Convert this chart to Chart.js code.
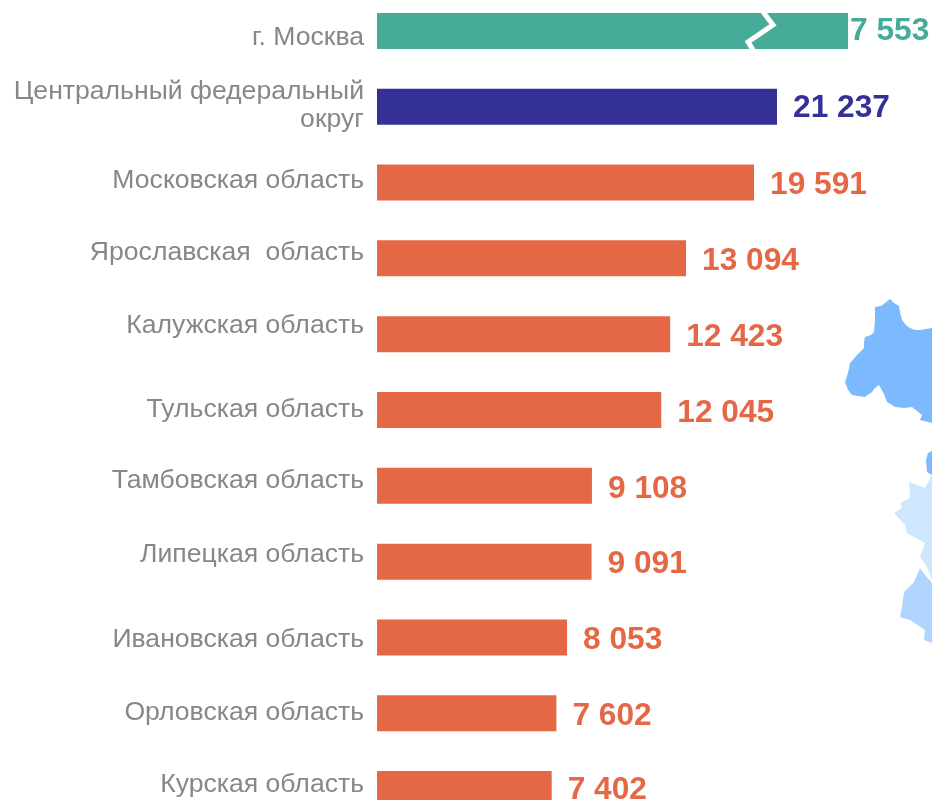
<!DOCTYPE html>
<html lang="ru">
<head>
<meta charset="utf-8">
<title>Регионы ЦФО</title>
<script src="https://cdn.jsdelivr.net/npm/chart.js@4"></script>
<style>
html,body{margin:0;padding:0;background:#fff;width:932px;height:800px;overflow:hidden}
#wrap{position:absolute;left:0;top:-7px;width:932px;height:834px}
</style>
</head>
<body>
<div id="wrap"><canvas id="c" width="932" height="834"></canvas></div>
<script>
const categories = [
  ["г. Москва"],
  ["Центральный федеральный", "округ"],
  ["Московская область"],
  ["Ярославская  область"],
  ["Калужская область"],
  ["Тульская область"],
  ["Тамбовская область"],
  ["Липецкая область"],
  ["Ивановская область"],
  ["Орловская область"],
  ["Курская область"]
];
// Values printed beside the bars
const printedValues = [7553, 21237, 19591, 13094, 12423, 12045, 9108, 9091, 8053, 7602, 7402];
// Bar lengths as drawn: the first three bars are not to scale in the source picture
const drawnValues = [19960, 16950, 15975, 13094, 12423, 12045, 9108, 9091, 8053, 7602, 7402];

const colorGreen = "#46AB98", colorNavy = "#353095", colorOrange = "#E46846", colorGrey = "#878787";
const barColors = [colorGreen, colorNavy].concat(Array(9).fill(colorOrange));
const fontFamily = '"Liberation Sans", Arial, sans-serif';

function fmt(v){
  const s = String(v);
  return s.slice(0, -3) + "\u00A0" + s.slice(-3);
}

const mapPlugin = {
  id: "mapPlugin",
  beforeDraw(chart){
    const ctx = chart.ctx;
    const top = 7; // canvas sits 7px above the page
    const shapes = [
      ["#7DB9FF", [[890,299],[894,303],[899,306],[900,312],[902,320],[906,325],[910,328],[915,330],[920,330],[926,329],[932,328],[932,423],[920,420],[922,415],[917,411],[912,407],[904,408],[895,407],[887,402],[884,394],[879,385],[875,388],[872,392],[865,397],[858,396],[852,395],[848,390],[845,382],[848,373],[850,363],[857,355],[864,348],[864,342],[865,337],[871,335],[874,332],[875,320],[875,307],[881,306],[885,303]]],
      ["#7DB9FF", [[932,451],[928,453],[926,460],[927,472],[932,475]]],
      ["#CFE6FF", [[932,475],[925,488],[909,482],[910,498],[900,503],[902,508],[894,513],[905,525],[907,533],[925,543],[920,557],[927,567],[932,580]]],
      ["#AED4FF", [[920,568],[914,582],[904,592],[902,607],[900,617],[910,620],[925,630],[924,640],[932,643],[932,583],[925,575]]]
    ];
    ctx.save();
    for (const [fill, pts] of shapes){
      ctx.beginPath();
      pts.forEach(([x,y],i) => i ? ctx.lineTo(x,y+top) : ctx.moveTo(x,y+top));
      ctx.closePath();
      ctx.fillStyle = fill;
      ctx.fill();
    }
    ctx.restore();
  }
};

const textPlugin = {
  id: "textPlugin",
  afterDatasetsDraw(chart){
    const ctx = chart.ctx;
    const bars = chart.getDatasetMeta(0).data;
    const catShift = [7, -1, -2, -6, -9, 0, -5, -7, 2, -1, -4];
    const valShift = [0, 2, 3, 3, 3, 3, 3, 3, 3, 3, 1];
    const valGap = [2, 16, 16, 16, 16, 16, 16, 16, 16, 16, 16];
    ctx.save();
    // break mark on the first bar
    const b0 = bars[0];
    const bx = b0.x - 85, by = b0.y;
    ctx.beginPath();
    ctx.moveTo(bx, by - 19);
    ctx.lineTo(bx + 10, by - 6);
    ctx.lineTo(bx - 15, by + 11);
    ctx.lineTo(bx - 10, by + 19);
    ctx.strokeStyle = "#fff";
    ctx.lineWidth = 5;
    ctx.stroke();
    // category labels
    ctx.textAlign = "right";
    ctx.textBaseline = "middle";
    ctx.fillStyle = colorGrey;
    ctx.font = "26.6px " + fontFamily;
    categories.forEach((lines, i) => {
      const y = bars[i].y + catShift[i];
      lines.forEach((t, k) => ctx.fillText(t, 364, y + (k - (lines.length - 1) / 2) * 28));
    });
    // value labels
    ctx.textAlign = "left";
    ctx.font = "bold 31.7px " + fontFamily;
    printedValues.forEach((v, i) => {
      ctx.fillStyle = barColors[i];
      ctx.fillText(fmt(v), bars[i].x + valGap[i], bars[i].y + valShift[i]);
    });
    ctx.restore();
  }
};

new Chart(document.getElementById("c"), {
  type: "bar",
  data: {
    labels: categories.map(l => l.join(" ")),
    datasets: [{
      data: drawnValues,
      backgroundColor: barColors,
      barThickness: 36,
      borderWidth: 0,
      inflateAmount: 0
    }]
  },
  plugins: [mapPlugin, textPlugin],
  options: {
    indexAxis: "y",
    responsive: false,
    animation: false,
    layout: { padding: { left: 377, right: 0, top: 0, bottom: 0 } },
    plugins: { legend: { display: false }, tooltip: { enabled: false }, title: { display: false } },
    scales: {
      x: { display: false, min: 0, max: 23517, grid: { display: false } },
      y: { display: false, grid: { display: false } }
    }
  }
});
</script>
</body>
</html>
